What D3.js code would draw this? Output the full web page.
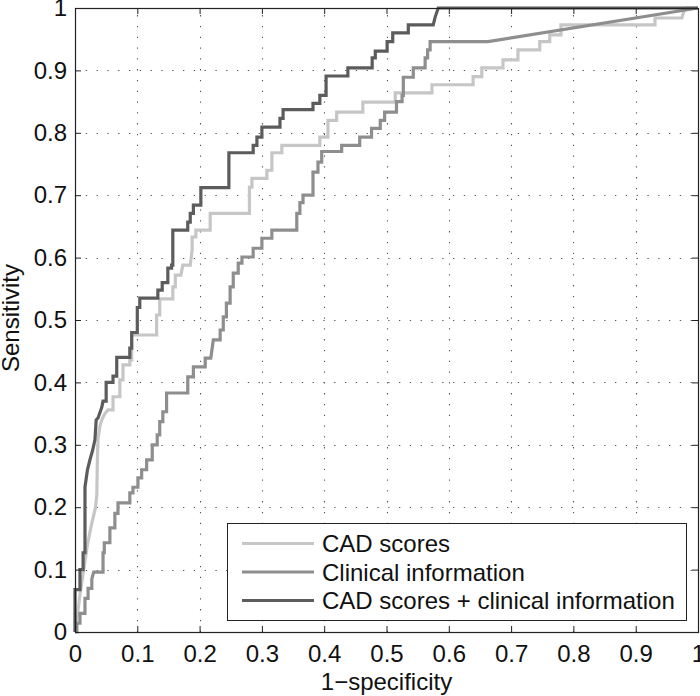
<!DOCTYPE html>
<html>
<head>
<meta charset="utf-8">
<script src="https://cdn.jsdelivr.net/npm/d3@7"></script>
<style>
  html, body { margin: 0; padding: 0; background: #fff; }
  svg { display: block; font-family: "Liberation Sans", Arial, Helvetica, sans-serif; }
</style>
</head>
<body>
<svg id="chart" width="700" height="696"></svg>
<script>
// ---- data ----
const seriesNames = ["CAD scores", "Clinical information", "CAD scores + clinical information"];
const seriesColors = ["#c6c6c6", "#8e8e8e", "#5c5c5c"];

const xTicks = [0, 0.1, 0.2, 0.3, 0.4, 0.5, 0.6, 0.7, 0.8, 0.9, 1];
const xTickLabels = ["0", "0.1", "0.2", "0.3", "0.4", "0.5", "0.6", "0.7", "0.8", "0.9", "1"];
const yTicks = [0, 0.1, 0.2, 0.3, 0.4, 0.5, 0.6, 0.7, 0.8, 0.9, 1];
const yTickLabels = ["0", "0.1", "0.2", "0.3", "0.4", "0.5", "0.6", "0.7", "0.8", "0.9", "1"];

// ROC vertices [1-specificity, sensitivity]
const cadScores = [[0,0],[0.003,0.02],[0.008,0.06],[0.014,0.10],[0.02,0.14],[0.026,0.17],[0.033,0.2],[0.035,0.22],[0.036,0.28],[0.037,0.31],[0.04,0.33],[0.043,0.34],[0.048,0.35],[0.053,0.356],[0.061,0.356],[0.061,0.377],[0.072,0.377],[0.072,0.404],[0.077,0.404],[0.077,0.428],[0.088,0.428],[0.088,0.436],[0.091,0.436],[0.091,0.476],[0.131,0.476],[0.131,0.508],[0.136,0.508],[0.136,0.534],[0.157,0.534],[0.157,0.553],[0.161,0.553],[0.161,0.572],[0.17,0.572],[0.173,0.588],[0.185,0.588],[0.188,0.612],[0.188,0.633],[0.194,0.633],[0.194,0.644],[0.217,0.644],[0.217,0.671],[0.28,0.671],[0.28,0.713],[0.284,0.713],[0.284,0.727],[0.308,0.727],[0.308,0.74],[0.316,0.74],[0.316,0.768],[0.332,0.768],[0.332,0.78],[0.393,0.78],[0.393,0.793],[0.406,0.793],[0.406,0.82],[0.42,0.82],[0.42,0.833],[0.462,0.833],[0.462,0.849],[0.514,0.849],[0.514,0.864],[0.573,0.864],[0.573,0.877],[0.639,0.877],[0.639,0.89],[0.653,0.89],[0.653,0.904],[0.687,0.904],[0.687,0.917],[0.711,0.917],[0.711,0.933],[0.746,0.933],[0.746,0.946],[0.762,0.946],[0.762,0.957],[0.78,0.957],[0.78,0.973],[0.931,0.973],[0.931,0.984],[0.974,0.984],[0.979,1],[1,1]];

const clinicalInfo = [[0,0],[0.003,0],[0.003,0.014],[0.008,0.014],[0.008,0.03],[0.016,0.03],[0.016,0.054],[0.021,0.054],[0.021,0.07],[0.027,0.07],[0.027,0.085],[0.03,0.096],[0.045,0.096],[0.045,0.127],[0.047,0.127],[0.047,0.143],[0.056,0.143],[0.056,0.167],[0.064,0.167],[0.064,0.19],[0.069,0.19],[0.069,0.207],[0.088,0.207],[0.088,0.223],[0.093,0.223],[0.093,0.232],[0.101,0.232],[0.101,0.247],[0.107,0.247],[0.107,0.26],[0.115,0.26],[0.115,0.276],[0.124,0.276],[0.124,0.3],[0.132,0.3],[0.132,0.316],[0.136,0.316],[0.136,0.337],[0.141,0.337],[0.141,0.353],[0.147,0.353],[0.147,0.383],[0.181,0.383],[0.181,0.409],[0.19,0.409],[0.19,0.425],[0.209,0.425],[0.209,0.439],[0.218,0.439],[0.222,0.468],[0.233,0.468],[0.233,0.484],[0.238,0.484],[0.238,0.505],[0.243,0.505],[0.243,0.527],[0.249,0.527],[0.249,0.553],[0.254,0.553],[0.254,0.575],[0.262,0.575],[0.262,0.591],[0.268,0.591],[0.268,0.601],[0.286,0.601],[0.286,0.615],[0.3,0.615],[0.3,0.631],[0.316,0.631],[0.316,0.644],[0.356,0.644],[0.356,0.671],[0.361,0.671],[0.361,0.688],[0.366,0.688],[0.366,0.7],[0.382,0.7],[0.382,0.737],[0.39,0.737],[0.39,0.753],[0.396,0.753],[0.396,0.77],[0.428,0.77],[0.428,0.78],[0.457,0.78],[0.457,0.793],[0.476,0.793],[0.476,0.807],[0.49,0.807],[0.49,0.82],[0.497,0.82],[0.497,0.833],[0.516,0.833],[0.516,0.85],[0.525,0.85],[0.525,0.86],[0.527,0.86],[0.527,0.889],[0.543,0.889],[0.543,0.904],[0.562,0.904],[0.562,0.92],[0.566,0.92],[0.566,0.933],[0.57,0.933],[0.57,0.946],[0.663,0.946],[1,1]];

const combined = [[0,0],[0,0.068],[0.008,0.068],[0.008,0.10],[0.013,0.10],[0.013,0.127],[0.016,0.127],[0.016,0.232],[0.02,0.26],[0.024,0.276],[0.028,0.29],[0.032,0.308],[0.034,0.34],[0.037,0.343],[0.043,0.36],[0.045,0.37],[0.05,0.37],[0.05,0.40],[0.061,0.40],[0.061,0.41],[0.067,0.41],[0.067,0.44],[0.088,0.44],[0.088,0.455],[0.091,0.455],[0.091,0.48],[0.1,0.48],[0.1,0.52],[0.104,0.52],[0.104,0.535],[0.133,0.535],[0.133,0.548],[0.14,0.548],[0.14,0.56],[0.149,0.56],[0.149,0.583],[0.155,0.583],[0.155,0.588],[0.157,0.588],[0.157,0.644],[0.181,0.644],[0.181,0.657],[0.185,0.657],[0.185,0.671],[0.19,0.671],[0.19,0.684],[0.202,0.684],[0.202,0.712],[0.247,0.712],[0.247,0.768],[0.286,0.768],[0.286,0.78],[0.292,0.78],[0.292,0.793],[0.3,0.793],[0.3,0.809],[0.329,0.809],[0.329,0.823],[0.334,0.823],[0.334,0.837],[0.382,0.837],[0.382,0.847],[0.393,0.847],[0.393,0.86],[0.403,0.86],[0.403,0.891],[0.438,0.891],[0.438,0.904],[0.477,0.904],[0.477,0.92],[0.482,0.92],[0.482,0.931],[0.501,0.931],[0.501,0.946],[0.51,0.946],[0.51,0.96],[0.535,0.96],[0.535,0.973],[0.575,0.973],[0.578,0.985],[0.583,1],[1,1]];

const allSeries = [cadScores, clinicalInfo, combined];

// ---- layout ----
const svg = d3.select("#chart");
const pLeft = 75, pRight = 698, pTop = 8, pBottom = 632;
const x = d3.scaleLinear().domain([0, 1]).range([pLeft, pRight]);
const y = d3.scaleLinear().domain([0, 1]).range([pBottom, pTop]);
const fontSize = 24;
const textColor = "#111";

// grid
const grid = svg.append("g").attr("stroke", "#555").attr("stroke-width", 1.1).attr("stroke-dasharray", "1.3,9.5");
grid.selectAll("line.vx").data(xTicks.slice(1, -1)).join("line")
  .attr("x1", d => Math.round(x(d)) + 0.5).attr("x2", d => Math.round(x(d)) + 0.5)
  .attr("y1", pBottom).attr("y2", pTop);
grid.selectAll("line.hy").data(yTicks.slice(1, -1)).join("line")
  .attr("y1", d => Math.round(y(d)) + 0.5).attr("y2", d => Math.round(y(d)) + 0.5)
  .attr("x1", pLeft).attr("x2", pRight);

// curves
const line = d3.line().x(d => x(d[0])).y(d => y(d[1])).curve(d3.curveLinear);
svg.append("g").selectAll("path").data(allSeries).join("path")
  .attr("d", line)
  .attr("fill", "none")
  .attr("stroke", (d, i) => seriesColors[i])
  .attr("stroke-width", 3.2)
  .attr("stroke-linejoin", "miter")
  .attr("stroke-linecap", "butt");

// axes
const axisColor = "#222";
function styleAxis(g) {
  g.select(".domain").remove();
  g.selectAll(".tick line").attr("stroke", axisColor).attr("stroke-width", 1);
  g.selectAll(".tick text").attr("fill", textColor).style("font-size", fontSize + "px")
    .style("font-family", '"Liberation Sans", Arial, Helvetica, sans-serif');
}
const xAxis = d3.axisBottom(x).tickValues(xTicks).tickSize(-6).tickPadding(13)
  .tickFormat((d, i) => xTickLabels[i]);
svg.append("g").attr("transform", `translate(0,${pBottom})`).call(xAxis).call(styleAxis);
const xAxisTop = d3.axisTop(x).tickValues(xTicks).tickSize(-6).tickFormat("");
svg.append("g").attr("transform", `translate(0,${pTop})`).call(xAxisTop).call(styleAxis);

const yAxis = d3.axisLeft(y).tickValues(yTicks).tickSize(-6).tickPadding(8)
  .tickFormat((d, i) => yTickLabels[i]);
svg.append("g").attr("transform", `translate(${pLeft},0)`).call(yAxis).call(styleAxis);
const yAxisRight = d3.axisRight(y).tickValues(yTicks).tickSize(-6).tickFormat("");
svg.append("g").attr("transform", `translate(${pRight},0)`).call(yAxisRight).call(styleAxis);

// frame
svg.append("rect").attr("x", pLeft + 0.5).attr("y", pTop + 0.5)
  .attr("width", pRight - pLeft).attr("height", pBottom - pTop)
  .attr("fill", "none").attr("stroke", axisColor).attr("stroke-width", 1.2);

// axis labels
svg.append("text").attr("x", (pLeft + pRight) / 2).attr("y", 690)
  .attr("text-anchor", "middle").style("font-size", fontSize + "px").attr("fill", textColor)
  .text("1\u2212specificity");
svg.append("text").attr("transform", `translate(19,${(pTop + pBottom) / 2 - 2}) rotate(-90)`)
  .attr("text-anchor", "middle").style("font-size", fontSize + "px").attr("fill", textColor)
  .text("Sensitivity");

// legend
const lg = svg.append("g");
lg.append("rect").attr("x", 227.5).attr("y", 523.5).attr("width", 459).attr("height", 97)
  .attr("fill", "#fff").attr("stroke", axisColor).attr("stroke-width", 1);
const rows = lg.selectAll("g.row").data(seriesNames).join("g")
  .attr("transform", (d, i) => `translate(0,${543.5 + i * 28.5})`);
rows.append("line").attr("x1", 242).attr("x2", 314).attr("y1", 0).attr("y2", 0)
  .attr("stroke", (d, i) => seriesColors[i]).attr("stroke-width", 3.2);
rows.append("text").attr("x", 322).attr("y", 8.5)
  .style("font-size", fontSize + "px").attr("fill", textColor).text(d => d);
</script>
</body>
</html>
